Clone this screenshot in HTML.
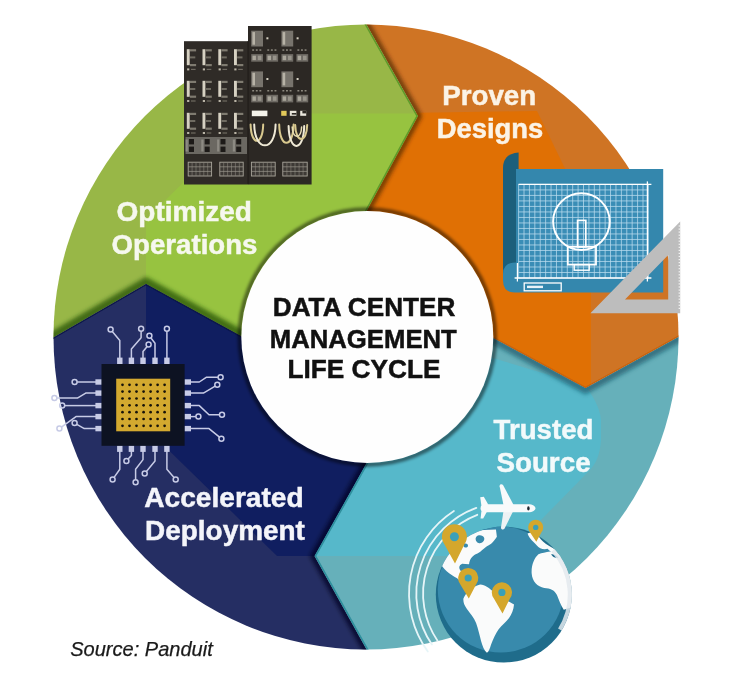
<!DOCTYPE html>
<html><head><meta charset="utf-8"><title>Data Center Management Life Cycle</title>
<style>html,body{margin:0;padding:0;background:#fff}body{width:740px;height:686px;position:relative;overflow:hidden;font-family:"Liberation Sans",sans-serif}svg text{font-family:"Liberation Sans",sans-serif}</style>
</head><body>
<svg width="740" height="686" viewBox="0 0 740 686" style="position:absolute;left:0;top:0;filter:blur(0.4px)">
<defs>
<clipPath id="ring"><circle cx="366.0" cy="337.0" r="312.5"/></clipPath>
<clipPath id="c_green"><polygon points="146.0,284.0 30.4,350.8 -120.0,-120.0 353.5,1.6 418.0,116.0 358.9,225.2 366.0,337.0 254.1,343.2"/></clipPath>
<clipPath id="c_orange"><polygon points="418.0,116.0 353.5,1.6 860.0,-120.0 702.1,323.8 585.5,388.0 479.7,330.5 366.0,337.0 358.9,225.2"/></clipPath>
<clipPath id="c_teal"><polygon points="585.5,388.0 702.1,323.8 860.0,800.0 379.6,672.9 314.5,556.0 374.4,449.1 366.0,337.0 479.7,330.5"/></clipPath>
<clipPath id="c_blue"><polygon points="314.5,556.0 379.6,672.9 -120.0,800.0 30.4,350.8 146.0,284.0 254.1,343.2 366.0,337.0 374.4,449.1"/></clipPath>
<filter id="b4" x="-20%" y="-20%" width="140%" height="140%"><feGaussianBlur stdDeviation="2"/></filter>
<filter id="b2" x="-20%" y="-20%" width="140%" height="140%"><feGaussianBlur stdDeviation="1.5"/></filter>
<filter id="b1" x="-20%" y="-20%" width="140%" height="140%"><feGaussianBlur stdDeviation="0.6"/></filter>
<clipPath id="bright"><path d="M146,113 L601,113 L601,556 L146,556 Z"/></clipPath>
<clipPath id="brighto"><path d="M146,114 L591,114 L591,556 L146,556 Z"/></clipPath>
<clipPath id="brightg"><path d="M146,113.5 L601,113.5 L601,556 L146,556 Z"/></clipPath>
<clipPath id="brightc"><circle cx="366.0" cy="337.0" r="266"/></clipPath>
<clipPath id="brightb"><circle cx="366.0" cy="337.0" r="225"/></clipPath>
</defs>
<rect width="740" height="686" fill="#ffffff"/>
<g clip-path="url(#ring)">
<polygon points="146.0,284.0 30.4,350.8 -120.0,-120.0 353.5,1.6 418.0,116.0 358.9,225.2 366.0,337.0 254.1,343.2" fill="#98b747"/>
<polygon points="418.0,116.0 353.5,1.6 860.0,-120.0 702.1,323.8 585.5,388.0 479.7,330.5 366.0,337.0 358.9,225.2" fill="#cf7424"/>
<polygon points="585.5,388.0 702.1,323.8 860.0,800.0 379.6,672.9 314.5,556.0 374.4,449.1 366.0,337.0 479.7,330.5" fill="#66b0ba"/>
<polygon points="314.5,556.0 379.6,672.9 -120.0,800.0 30.4,350.8 146.0,284.0 254.1,343.2 366.0,337.0 374.4,449.1" fill="#252e63"/>
<g clip-path="url(#c_green)"><polygon points="146,600 146,219 254,113.5 700,113.5 700,600" fill="#97c340"/></g>
<g clip-path="url(#c_orange)"><polygon points="300,114.5 537,111 591,222 591,600 300,600" fill="#e07004"/></g>
<g clip-path="url(#c_teal)"><path d="M300,300 L585.5,386 C592,395 600,407 601,420 L601,440 C600,455 596,463 590,470 L536,525 L505,556 L300,556 Z" fill="#56b8ca"/></g>
<g clip-path="url(#c_blue)"><polygon points="146,200 146,428 277,556 500,556 500,200" fill="#101e60"/></g>
<g clip-path="url(#c_orange)"><path d="M353.5,1.6 L418.0,116.0 L361.5,220.5" fill="none" stroke="#4a2400" stroke-opacity="0.8" stroke-width="5" stroke-linejoin="miter" filter="url(#b4)" transform="translate(1.2,0)"/></g>
<g clip-path="url(#c_teal)"><path d="M702.1,323.8 L585.5,388.0 L484.3,333.0" fill="none" stroke="#0d4a5c" stroke-opacity="0.6" stroke-width="8" stroke-linejoin="miter" filter="url(#b4)" transform="translate(0,2)"/></g>
<g clip-path="url(#c_blue)"><path d="M379.6,672.9 L314.5,556.0 L371.8,453.7" fill="none" stroke="#020720" stroke-opacity="0.8" stroke-width="6" stroke-linejoin="miter" filter="url(#b4)" transform="translate(-1.2,0)"/></g>
<g clip-path="url(#c_green)"><path d="M30.4,350.8 L146.0,284.0 L249.4,340.6" fill="none" stroke="#1f4a08" stroke-opacity="0.7" stroke-width="9" stroke-linejoin="miter" filter="url(#b4)" transform="translate(0,-2)"/></g>
<g clip-path="url(#c_green)"><path d="M353.5,1.6 L418.0,116.0 L361.5,220.5" fill="none" stroke="#5f9a2c" stroke-width="3.2" stroke-opacity="1" filter="url(#b1)"/></g>
<g clip-path="url(#c_orange)"><path d="M702.1,323.8 L585.5,388.0 L484.3,333.0" fill="none" stroke="#c9620d" stroke-width="2.4" stroke-opacity="1" filter="url(#b1)"/></g>
<g clip-path="url(#c_teal)"><path d="M379.6,672.9 L314.5,556.0 L371.8,453.7" fill="none" stroke="#2f8f9d" stroke-width="3.4" stroke-opacity="1" filter="url(#b1)"/></g>
<g clip-path="url(#c_blue)"><path d="M30.4,350.8 L146.0,284.0 L249.4,340.6" fill="none" stroke="#0b1648" stroke-width="2.4" stroke-opacity="1" filter="url(#b1)"/></g>
<circle cx="367.3" cy="337.0" r="127.5" fill="none" stroke="#000" stroke-opacity="0.5" stroke-width="4.4" filter="url(#b2)"/>
</g>
<circle cx="367.3" cy="337.0" r="126.0" fill="#fefefe"/>
<g id="racks">
<rect x="184" y="41.2" width="64.2" height="143.3" fill="#2f2b27"/>
<rect x="248" y="26" width="63.6" height="158.5" fill="#2c2824"/>
<rect x="247.6" y="41" width="0.9" height="143" fill="#1c1916"/>
<rect x="186.8" y="49.2" width="2.9" height="16" fill="#d6d1c2"/>
<rect x="189.9" y="49.2" width="6.2" height="2.2" fill="#7f7b70"/>
<rect x="189.9" y="56.400000000000006" width="5.4" height="2" fill="#6f6b61"/>
<rect x="189.9" y="64.0" width="6.2" height="2.2" fill="#7f7b70"/>
<rect x="187.10000000000002" y="68.4" width="2.2" height="2" fill="#b9b4a6"/>
<rect x="191.0" y="68.80000000000001" width="4.6" height="1.2" fill="#6f6a61"/>
<rect x="202.5" y="49.2" width="2.9" height="16" fill="#d6d1c2"/>
<rect x="205.6" y="49.2" width="6.2" height="2.2" fill="#7f7b70"/>
<rect x="205.6" y="56.400000000000006" width="5.4" height="2" fill="#6f6b61"/>
<rect x="205.6" y="64.0" width="6.2" height="2.2" fill="#7f7b70"/>
<rect x="202.8" y="68.4" width="2.2" height="2" fill="#b9b4a6"/>
<rect x="206.7" y="68.80000000000001" width="4.6" height="1.2" fill="#6f6a61"/>
<rect x="218.3" y="49.2" width="2.9" height="16" fill="#d6d1c2"/>
<rect x="221.4" y="49.2" width="6.2" height="2.2" fill="#7f7b70"/>
<rect x="221.4" y="56.400000000000006" width="5.4" height="2" fill="#6f6b61"/>
<rect x="221.4" y="64.0" width="6.2" height="2.2" fill="#7f7b70"/>
<rect x="218.60000000000002" y="68.4" width="2.2" height="2" fill="#b9b4a6"/>
<rect x="222.5" y="68.80000000000001" width="4.6" height="1.2" fill="#6f6a61"/>
<rect x="234.0" y="49.2" width="2.9" height="16" fill="#d6d1c2"/>
<rect x="237.1" y="49.2" width="6.2" height="2.2" fill="#7f7b70"/>
<rect x="237.1" y="56.400000000000006" width="5.4" height="2" fill="#6f6b61"/>
<rect x="237.1" y="64.0" width="6.2" height="2.2" fill="#7f7b70"/>
<rect x="234.3" y="68.4" width="2.2" height="2" fill="#b9b4a6"/>
<rect x="238.2" y="68.80000000000001" width="4.6" height="1.2" fill="#6f6a61"/>
<rect x="186.8" y="80.8" width="2.9" height="16" fill="#d6d1c2"/>
<rect x="189.9" y="80.8" width="6.2" height="2.2" fill="#7f7b70"/>
<rect x="189.9" y="88.0" width="5.4" height="2" fill="#6f6b61"/>
<rect x="189.9" y="95.6" width="6.2" height="2.2" fill="#7f7b70"/>
<rect x="187.10000000000002" y="100.0" width="2.2" height="2" fill="#b9b4a6"/>
<rect x="191.0" y="100.4" width="4.6" height="1.2" fill="#6f6a61"/>
<rect x="202.5" y="80.8" width="2.9" height="16" fill="#d6d1c2"/>
<rect x="205.6" y="80.8" width="6.2" height="2.2" fill="#7f7b70"/>
<rect x="205.6" y="88.0" width="5.4" height="2" fill="#6f6b61"/>
<rect x="205.6" y="95.6" width="6.2" height="2.2" fill="#7f7b70"/>
<rect x="202.8" y="100.0" width="2.2" height="2" fill="#b9b4a6"/>
<rect x="206.7" y="100.4" width="4.6" height="1.2" fill="#6f6a61"/>
<rect x="218.3" y="80.8" width="2.9" height="16" fill="#d6d1c2"/>
<rect x="221.4" y="80.8" width="6.2" height="2.2" fill="#7f7b70"/>
<rect x="221.4" y="88.0" width="5.4" height="2" fill="#6f6b61"/>
<rect x="221.4" y="95.6" width="6.2" height="2.2" fill="#7f7b70"/>
<rect x="218.60000000000002" y="100.0" width="2.2" height="2" fill="#b9b4a6"/>
<rect x="222.5" y="100.4" width="4.6" height="1.2" fill="#6f6a61"/>
<rect x="234.0" y="80.8" width="2.9" height="16" fill="#d6d1c2"/>
<rect x="237.1" y="80.8" width="6.2" height="2.2" fill="#7f7b70"/>
<rect x="237.1" y="88.0" width="5.4" height="2" fill="#6f6b61"/>
<rect x="237.1" y="95.6" width="6.2" height="2.2" fill="#7f7b70"/>
<rect x="234.3" y="100.0" width="2.2" height="2" fill="#b9b4a6"/>
<rect x="238.2" y="100.4" width="4.6" height="1.2" fill="#6f6a61"/>
<rect x="186.8" y="112.8" width="2.9" height="16" fill="#d6d1c2"/>
<rect x="189.9" y="112.8" width="6.2" height="2.2" fill="#7f7b70"/>
<rect x="189.9" y="120.0" width="5.4" height="2" fill="#6f6b61"/>
<rect x="189.9" y="127.6" width="6.2" height="2.2" fill="#7f7b70"/>
<rect x="187.10000000000002" y="132.0" width="2.2" height="2" fill="#b9b4a6"/>
<rect x="191.0" y="132.4" width="4.6" height="1.2" fill="#6f6a61"/>
<rect x="202.5" y="112.8" width="2.9" height="16" fill="#d6d1c2"/>
<rect x="205.6" y="112.8" width="6.2" height="2.2" fill="#7f7b70"/>
<rect x="205.6" y="120.0" width="5.4" height="2" fill="#6f6b61"/>
<rect x="205.6" y="127.6" width="6.2" height="2.2" fill="#7f7b70"/>
<rect x="202.8" y="132.0" width="2.2" height="2" fill="#b9b4a6"/>
<rect x="206.7" y="132.4" width="4.6" height="1.2" fill="#6f6a61"/>
<rect x="218.3" y="112.8" width="2.9" height="16" fill="#d6d1c2"/>
<rect x="221.4" y="112.8" width="6.2" height="2.2" fill="#7f7b70"/>
<rect x="221.4" y="120.0" width="5.4" height="2" fill="#6f6b61"/>
<rect x="221.4" y="127.6" width="6.2" height="2.2" fill="#7f7b70"/>
<rect x="218.60000000000002" y="132.0" width="2.2" height="2" fill="#b9b4a6"/>
<rect x="222.5" y="132.4" width="4.6" height="1.2" fill="#6f6a61"/>
<rect x="234.0" y="112.8" width="2.9" height="16" fill="#d6d1c2"/>
<rect x="237.1" y="112.8" width="6.2" height="2.2" fill="#7f7b70"/>
<rect x="237.1" y="120.0" width="5.4" height="2" fill="#6f6b61"/>
<rect x="237.1" y="127.6" width="6.2" height="2.2" fill="#7f7b70"/>
<rect x="234.3" y="132.0" width="2.2" height="2" fill="#b9b4a6"/>
<rect x="238.2" y="132.4" width="4.6" height="1.2" fill="#6f6a61"/>
<rect x="185.5" y="137" width="61.5" height="17" fill="#6b6862"/>
<rect x="189.0" y="139" width="5" height="5.4" fill="#1d1a18"/>
<rect x="189.0" y="146.6" width="5" height="5.4" fill="#1d1a18"/>
<rect x="185.60000000000002" y="139.5" width="2.2" height="12" fill="#8d8a83"/>
<rect x="204.7" y="139" width="5" height="5.4" fill="#1d1a18"/>
<rect x="204.7" y="146.6" width="5" height="5.4" fill="#1d1a18"/>
<rect x="201.3" y="139.5" width="2.2" height="12" fill="#8d8a83"/>
<rect x="220.5" y="139" width="5" height="5.4" fill="#1d1a18"/>
<rect x="220.5" y="146.6" width="5" height="5.4" fill="#1d1a18"/>
<rect x="217.10000000000002" y="139.5" width="2.2" height="12" fill="#8d8a83"/>
<rect x="236.2" y="139" width="5" height="5.4" fill="#1d1a18"/>
<rect x="236.2" y="146.6" width="5" height="5.4" fill="#1d1a18"/>
<rect x="232.8" y="139.5" width="2.2" height="12" fill="#8d8a83"/>
<rect x="188.2" y="162.2" width="23.4" height="13.8" fill="#3d3935" stroke="#aaa69c" stroke-width="0.9"/>
<line x1="192.1" y1="162.2" x2="192.1" y2="176.0" stroke="#8b877e" stroke-width="0.6"/>
<line x1="196.0" y1="162.2" x2="196.0" y2="176.0" stroke="#8b877e" stroke-width="0.6"/>
<line x1="199.9" y1="162.2" x2="199.9" y2="176.0" stroke="#8b877e" stroke-width="0.6"/>
<line x1="203.8" y1="162.2" x2="203.8" y2="176.0" stroke="#8b877e" stroke-width="0.6"/>
<line x1="207.7" y1="162.2" x2="207.7" y2="176.0" stroke="#8b877e" stroke-width="0.6"/>
<line x1="188.2" y1="166.8" x2="211.6" y2="166.8" stroke="#9a968c" stroke-width="0.7"/>
<line x1="188.2" y1="171.4" x2="211.6" y2="171.4" stroke="#9a968c" stroke-width="0.7"/>
<rect x="219.8" y="162.2" width="23.4" height="13.8" fill="#3d3935" stroke="#aaa69c" stroke-width="0.9"/>
<line x1="223.7" y1="162.2" x2="223.7" y2="176.0" stroke="#8b877e" stroke-width="0.6"/>
<line x1="227.6" y1="162.2" x2="227.6" y2="176.0" stroke="#8b877e" stroke-width="0.6"/>
<line x1="231.5" y1="162.2" x2="231.5" y2="176.0" stroke="#8b877e" stroke-width="0.6"/>
<line x1="235.4" y1="162.2" x2="235.4" y2="176.0" stroke="#8b877e" stroke-width="0.6"/>
<line x1="239.3" y1="162.2" x2="239.3" y2="176.0" stroke="#8b877e" stroke-width="0.6"/>
<line x1="219.8" y1="166.8" x2="243.20000000000002" y2="166.8" stroke="#9a968c" stroke-width="0.7"/>
<line x1="219.8" y1="171.4" x2="243.20000000000002" y2="171.4" stroke="#9a968c" stroke-width="0.7"/>
<rect x="251.4" y="162.2" width="23.8" height="13.8" fill="#3d3935" stroke="#aaa69c" stroke-width="0.9"/>
<line x1="255.4" y1="162.2" x2="255.4" y2="176.0" stroke="#8b877e" stroke-width="0.6"/>
<line x1="259.3" y1="162.2" x2="259.3" y2="176.0" stroke="#8b877e" stroke-width="0.6"/>
<line x1="263.3" y1="162.2" x2="263.3" y2="176.0" stroke="#8b877e" stroke-width="0.6"/>
<line x1="267.3" y1="162.2" x2="267.3" y2="176.0" stroke="#8b877e" stroke-width="0.6"/>
<line x1="271.2" y1="162.2" x2="271.2" y2="176.0" stroke="#8b877e" stroke-width="0.6"/>
<line x1="251.4" y1="166.8" x2="275.2" y2="166.8" stroke="#9a968c" stroke-width="0.7"/>
<line x1="251.4" y1="171.4" x2="275.2" y2="171.4" stroke="#9a968c" stroke-width="0.7"/>
<rect x="282.8" y="162.2" width="24.4" height="13.8" fill="#3d3935" stroke="#aaa69c" stroke-width="0.9"/>
<line x1="286.9" y1="162.2" x2="286.9" y2="176.0" stroke="#8b877e" stroke-width="0.6"/>
<line x1="290.9" y1="162.2" x2="290.9" y2="176.0" stroke="#8b877e" stroke-width="0.6"/>
<line x1="295.0" y1="162.2" x2="295.0" y2="176.0" stroke="#8b877e" stroke-width="0.6"/>
<line x1="299.1" y1="162.2" x2="299.1" y2="176.0" stroke="#8b877e" stroke-width="0.6"/>
<line x1="303.1" y1="162.2" x2="303.1" y2="176.0" stroke="#8b877e" stroke-width="0.6"/>
<line x1="282.8" y1="166.8" x2="307.2" y2="166.8" stroke="#9a968c" stroke-width="0.7"/>
<line x1="282.8" y1="171.4" x2="307.2" y2="171.4" stroke="#9a968c" stroke-width="0.7"/>
<rect x="251.2" y="30.7" width="11.8" height="15.8" fill="#77736c"/>
<rect x="252.39999999999998" y="32.1" width="2.6" height="12.6" fill="#b7b2a6"/>
<rect x="266.4" y="37.3" width="2" height="2" fill="#d6d1c3"/>
<rect x="281.4" y="30.7" width="11.8" height="15.8" fill="#77736c"/>
<rect x="282.59999999999997" y="32.1" width="2.6" height="12.6" fill="#b7b2a6"/>
<rect x="296.59999999999997" y="37.3" width="2" height="2" fill="#d6d1c3"/>
<rect x="252.2" y="49.3" width="1.9" height="1.5" fill="#8c887e"/>
<rect x="255.79999999999998" y="49.3" width="1.9" height="1.5" fill="#8c887e"/>
<rect x="259.4" y="49.3" width="1.9" height="1.5" fill="#8c887e"/>
<rect x="267.3" y="49.3" width="1.9" height="1.5" fill="#8c887e"/>
<rect x="270.90000000000003" y="49.3" width="1.9" height="1.5" fill="#8c887e"/>
<rect x="274.5" y="49.3" width="1.9" height="1.5" fill="#8c887e"/>
<rect x="282.4" y="49.3" width="1.9" height="1.5" fill="#8c887e"/>
<rect x="286.0" y="49.3" width="1.9" height="1.5" fill="#8c887e"/>
<rect x="289.59999999999997" y="49.3" width="1.9" height="1.5" fill="#8c887e"/>
<rect x="297.4" y="49.3" width="1.9" height="1.5" fill="#8c887e"/>
<rect x="301.0" y="49.3" width="1.9" height="1.5" fill="#8c887e"/>
<rect x="304.59999999999997" y="49.3" width="1.9" height="1.5" fill="#8c887e"/>
<rect x="251.2" y="54.099999999999994" width="11.8" height="7.6" fill="#6e6a64"/>
<rect x="252.5" y="55.7" width="3.4" height="4.4" fill="#aaa69b"/>
<rect x="257.8" y="55.7" width="3.6" height="4.4" fill="#97938a"/>
<rect x="266.3" y="54.099999999999994" width="11.8" height="7.6" fill="#6e6a64"/>
<rect x="267.6" y="55.7" width="3.4" height="4.4" fill="#aaa69b"/>
<rect x="272.90000000000003" y="55.7" width="3.6" height="4.4" fill="#97938a"/>
<rect x="281.4" y="54.099999999999994" width="11.8" height="7.6" fill="#6e6a64"/>
<rect x="282.7" y="55.7" width="3.4" height="4.4" fill="#aaa69b"/>
<rect x="288.0" y="55.7" width="3.6" height="4.4" fill="#97938a"/>
<rect x="296.4" y="54.099999999999994" width="11.8" height="7.6" fill="#6e6a64"/>
<rect x="297.7" y="55.7" width="3.4" height="4.4" fill="#aaa69b"/>
<rect x="303.0" y="55.7" width="3.6" height="4.4" fill="#97938a"/>
<rect x="251.2" y="71.4" width="11.8" height="15.8" fill="#77736c"/>
<rect x="252.39999999999998" y="72.80000000000001" width="2.6" height="12.6" fill="#b7b2a6"/>
<rect x="266.4" y="78.0" width="2" height="2" fill="#d6d1c3"/>
<rect x="281.4" y="71.4" width="11.8" height="15.8" fill="#77736c"/>
<rect x="282.59999999999997" y="72.80000000000001" width="2.6" height="12.6" fill="#b7b2a6"/>
<rect x="296.59999999999997" y="78.0" width="2" height="2" fill="#d6d1c3"/>
<rect x="252.2" y="90.0" width="1.9" height="1.5" fill="#8c887e"/>
<rect x="255.79999999999998" y="90.0" width="1.9" height="1.5" fill="#8c887e"/>
<rect x="259.4" y="90.0" width="1.9" height="1.5" fill="#8c887e"/>
<rect x="267.3" y="90.0" width="1.9" height="1.5" fill="#8c887e"/>
<rect x="270.90000000000003" y="90.0" width="1.9" height="1.5" fill="#8c887e"/>
<rect x="274.5" y="90.0" width="1.9" height="1.5" fill="#8c887e"/>
<rect x="282.4" y="90.0" width="1.9" height="1.5" fill="#8c887e"/>
<rect x="286.0" y="90.0" width="1.9" height="1.5" fill="#8c887e"/>
<rect x="289.59999999999997" y="90.0" width="1.9" height="1.5" fill="#8c887e"/>
<rect x="297.4" y="90.0" width="1.9" height="1.5" fill="#8c887e"/>
<rect x="301.0" y="90.0" width="1.9" height="1.5" fill="#8c887e"/>
<rect x="304.59999999999997" y="90.0" width="1.9" height="1.5" fill="#8c887e"/>
<rect x="251.2" y="94.80000000000001" width="11.8" height="7.6" fill="#6e6a64"/>
<rect x="252.5" y="96.4" width="3.4" height="4.4" fill="#aaa69b"/>
<rect x="257.8" y="96.4" width="3.6" height="4.4" fill="#97938a"/>
<rect x="266.3" y="94.80000000000001" width="11.8" height="7.6" fill="#6e6a64"/>
<rect x="267.6" y="96.4" width="3.4" height="4.4" fill="#aaa69b"/>
<rect x="272.90000000000003" y="96.4" width="3.6" height="4.4" fill="#97938a"/>
<rect x="281.4" y="94.80000000000001" width="11.8" height="7.6" fill="#6e6a64"/>
<rect x="282.7" y="96.4" width="3.4" height="4.4" fill="#aaa69b"/>
<rect x="288.0" y="96.4" width="3.6" height="4.4" fill="#97938a"/>
<rect x="296.4" y="94.80000000000001" width="11.8" height="7.6" fill="#6e6a64"/>
<rect x="297.7" y="96.4" width="3.4" height="4.4" fill="#aaa69b"/>
<rect x="303.0" y="96.4" width="3.6" height="4.4" fill="#97938a"/>
<rect x="251.8" y="110.6" width="15.6" height="5.6" fill="#f4f2ea"/>
<rect x="281.2" y="110.8" width="5.4" height="5" fill="#e2c95a"/>
<rect x="289.8" y="110.8" width="6.6" height="5" fill="#e9e6dc"/><rect x="291.8" y="113" width="4.6" height="1.6" fill="#2c2824"/>
<rect x="300.2" y="110.8" width="6" height="5" fill="#e9e6dc"/><rect x="302.4" y="110.8" width="3.8" height="2.6" fill="#2c2824"/>
<path d="M250.6,124.5 C251.1,146.3 262.7,146.3 263.2,124.5" fill="none" stroke="#d9c98f" stroke-width="2.0" stroke-linecap="round"/>
<path d="M254.2,124.5 C254.7,152.3 275.1,152.3 275.6,124.5" fill="none" stroke="#efe9d6" stroke-width="2.0" stroke-linecap="round"/>
<path d="M279.2,124.5 C279.7,148.9 293.1,148.9 293.6,124.5" fill="none" stroke="#d9c98f" stroke-width="2.0" stroke-linecap="round"/>
<path d="M288.6,126 C289.1,152.6 303.7,152.6 304.2,126" fill="none" stroke="#efe9d6" stroke-width="2.0" stroke-linecap="round"/>
<path d="M295.2,125 C295.7,143.6 306.7,143.6 307.2,125" fill="none" stroke="#d9c98f" stroke-width="2.0" stroke-linecap="round"/>
<path d="M292.2,127 C292.7,139.2 301.1,139.2 301.6,127" fill="none" stroke="#e6dcb4" stroke-width="1.5" stroke-linecap="round"/>
</g>
<g id="blueprint">
<path d="M503,168 C503,158 509,153 518.6,152.4 L518.6,276 L503,276 Z" fill="#1c5f7b"/>
<path d="M516,169 L663.2,169 L663.2,292.4 L515,292.4 Q503,292.4 503,280.4 L503,274 Q503,262.5 516,262.5 Z" fill="#3487ad"/>
<rect x="518.6" y="184.4" width="129.79999999999995" height="93.6" fill="#3a8db6"/>
<line x1="518.60" y1="184.4" x2="518.60" y2="278.0" stroke="#b9dcee" stroke-width="0.9" stroke-opacity="0.85"/>
<line x1="524.01" y1="184.4" x2="524.01" y2="278.0" stroke="#b9dcee" stroke-width="0.9" stroke-opacity="0.85"/>
<line x1="529.42" y1="184.4" x2="529.42" y2="278.0" stroke="#b9dcee" stroke-width="0.9" stroke-opacity="0.85"/>
<line x1="534.83" y1="184.4" x2="534.83" y2="278.0" stroke="#b9dcee" stroke-width="0.9" stroke-opacity="0.85"/>
<line x1="540.23" y1="184.4" x2="540.23" y2="278.0" stroke="#b9dcee" stroke-width="0.9" stroke-opacity="0.85"/>
<line x1="545.64" y1="184.4" x2="545.64" y2="278.0" stroke="#b9dcee" stroke-width="0.9" stroke-opacity="0.85"/>
<line x1="551.05" y1="184.4" x2="551.05" y2="278.0" stroke="#b9dcee" stroke-width="0.9" stroke-opacity="0.85"/>
<line x1="556.46" y1="184.4" x2="556.46" y2="278.0" stroke="#b9dcee" stroke-width="0.9" stroke-opacity="0.85"/>
<line x1="561.87" y1="184.4" x2="561.87" y2="278.0" stroke="#b9dcee" stroke-width="0.9" stroke-opacity="0.85"/>
<line x1="567.27" y1="184.4" x2="567.27" y2="278.0" stroke="#b9dcee" stroke-width="0.9" stroke-opacity="0.85"/>
<line x1="572.68" y1="184.4" x2="572.68" y2="278.0" stroke="#b9dcee" stroke-width="0.9" stroke-opacity="0.85"/>
<line x1="578.09" y1="184.4" x2="578.09" y2="278.0" stroke="#b9dcee" stroke-width="0.9" stroke-opacity="0.85"/>
<line x1="583.50" y1="184.4" x2="583.50" y2="278.0" stroke="#b9dcee" stroke-width="0.9" stroke-opacity="0.85"/>
<line x1="588.91" y1="184.4" x2="588.91" y2="278.0" stroke="#b9dcee" stroke-width="0.9" stroke-opacity="0.85"/>
<line x1="594.32" y1="184.4" x2="594.32" y2="278.0" stroke="#b9dcee" stroke-width="0.9" stroke-opacity="0.85"/>
<line x1="599.73" y1="184.4" x2="599.73" y2="278.0" stroke="#b9dcee" stroke-width="0.9" stroke-opacity="0.85"/>
<line x1="605.13" y1="184.4" x2="605.13" y2="278.0" stroke="#b9dcee" stroke-width="0.9" stroke-opacity="0.85"/>
<line x1="610.54" y1="184.4" x2="610.54" y2="278.0" stroke="#b9dcee" stroke-width="0.9" stroke-opacity="0.85"/>
<line x1="615.95" y1="184.4" x2="615.95" y2="278.0" stroke="#b9dcee" stroke-width="0.9" stroke-opacity="0.85"/>
<line x1="621.36" y1="184.4" x2="621.36" y2="278.0" stroke="#b9dcee" stroke-width="0.9" stroke-opacity="0.85"/>
<line x1="626.77" y1="184.4" x2="626.77" y2="278.0" stroke="#b9dcee" stroke-width="0.9" stroke-opacity="0.85"/>
<line x1="632.17" y1="184.4" x2="632.17" y2="278.0" stroke="#b9dcee" stroke-width="0.9" stroke-opacity="0.85"/>
<line x1="637.58" y1="184.4" x2="637.58" y2="278.0" stroke="#b9dcee" stroke-width="0.9" stroke-opacity="0.85"/>
<line x1="642.99" y1="184.4" x2="642.99" y2="278.0" stroke="#b9dcee" stroke-width="0.9" stroke-opacity="0.85"/>
<line x1="648.40" y1="184.4" x2="648.40" y2="278.0" stroke="#b9dcee" stroke-width="0.9" stroke-opacity="0.85"/>
<line x1="518.6" y1="184.40" x2="648.4" y2="184.40" stroke="#b9dcee" stroke-width="0.9" stroke-opacity="0.85"/>
<line x1="518.6" y1="189.91" x2="648.4" y2="189.91" stroke="#b9dcee" stroke-width="0.9" stroke-opacity="0.85"/>
<line x1="518.6" y1="195.41" x2="648.4" y2="195.41" stroke="#b9dcee" stroke-width="0.9" stroke-opacity="0.85"/>
<line x1="518.6" y1="200.92" x2="648.4" y2="200.92" stroke="#b9dcee" stroke-width="0.9" stroke-opacity="0.85"/>
<line x1="518.6" y1="206.42" x2="648.4" y2="206.42" stroke="#b9dcee" stroke-width="0.9" stroke-opacity="0.85"/>
<line x1="518.6" y1="211.93" x2="648.4" y2="211.93" stroke="#b9dcee" stroke-width="0.9" stroke-opacity="0.85"/>
<line x1="518.6" y1="217.44" x2="648.4" y2="217.44" stroke="#b9dcee" stroke-width="0.9" stroke-opacity="0.85"/>
<line x1="518.6" y1="222.94" x2="648.4" y2="222.94" stroke="#b9dcee" stroke-width="0.9" stroke-opacity="0.85"/>
<line x1="518.6" y1="228.45" x2="648.4" y2="228.45" stroke="#b9dcee" stroke-width="0.9" stroke-opacity="0.85"/>
<line x1="518.6" y1="233.95" x2="648.4" y2="233.95" stroke="#b9dcee" stroke-width="0.9" stroke-opacity="0.85"/>
<line x1="518.6" y1="239.46" x2="648.4" y2="239.46" stroke="#b9dcee" stroke-width="0.9" stroke-opacity="0.85"/>
<line x1="518.6" y1="244.96" x2="648.4" y2="244.96" stroke="#b9dcee" stroke-width="0.9" stroke-opacity="0.85"/>
<line x1="518.6" y1="250.47" x2="648.4" y2="250.47" stroke="#b9dcee" stroke-width="0.9" stroke-opacity="0.85"/>
<line x1="518.6" y1="255.98" x2="648.4" y2="255.98" stroke="#b9dcee" stroke-width="0.9" stroke-opacity="0.85"/>
<line x1="518.6" y1="261.48" x2="648.4" y2="261.48" stroke="#b9dcee" stroke-width="0.9" stroke-opacity="0.85"/>
<line x1="518.6" y1="266.99" x2="648.4" y2="266.99" stroke="#b9dcee" stroke-width="0.9" stroke-opacity="0.85"/>
<line x1="518.6" y1="272.49" x2="648.4" y2="272.49" stroke="#b9dcee" stroke-width="0.9" stroke-opacity="0.85"/>
<line x1="518.6" y1="278.00" x2="648.4" y2="278.00" stroke="#b9dcee" stroke-width="0.9" stroke-opacity="0.85"/>
<line x1="518.6" y1="184.4" x2="651.4" y2="184.4" stroke="#fff" stroke-width="1.3"/>
<line x1="647.4" y1="181.4" x2="647.4" y2="281.5" stroke="#fff" stroke-width="1.3"/>
<line x1="514.6" y1="278.0" x2="651.4" y2="278.0" stroke="#fff" stroke-width="1.3"/>
<line x1="517.4" y1="263.0" x2="517.4" y2="281.5" stroke="#fff" stroke-width="1.2"/>
<circle cx="581.4" cy="221.6" r="28.3" fill="none" stroke="#fff" stroke-width="2"/>
<rect x="577.6" y="220.4" width="8.2" height="26.4" fill="none" stroke="#fff" stroke-width="1.7"/>
<rect x="567.8" y="246.8" width="28.2" height="17.8" fill="none" stroke="#fff" stroke-width="1.8"/>
<rect x="574.2" y="264.6" width="15" height="5.6" fill="none" stroke="#fff" stroke-width="1.4"/>
<rect x="524.2" y="283" width="37" height="7.8" fill="none" stroke="#fff" stroke-width="1.3"/>
<rect x="527" y="285.7" width="16" height="2.4" fill="#e8f2f8"/>
<path fill-rule="evenodd" d="M680.2,221.4 L680.2,313.2 L590.4,313.2 Z M668.2,255 L668.2,299.4 L625,299.4 Z" fill="#bdbdbd"/>
<line x1="678.6" y1="226.0" x2="681" y2="226.0" stroke="#f2f2f2" stroke-width="1.2"/>
<line x1="678.6" y1="229.1" x2="681" y2="229.1" stroke="#f2f2f2" stroke-width="1.2"/>
<line x1="678.6" y1="232.1" x2="681" y2="232.1" stroke="#f2f2f2" stroke-width="1.2"/>
<line x1="678.6" y1="235.2" x2="681" y2="235.2" stroke="#f2f2f2" stroke-width="1.2"/>
<line x1="678.6" y1="238.2" x2="681" y2="238.2" stroke="#f2f2f2" stroke-width="1.2"/>
<line x1="678.6" y1="241.2" x2="681" y2="241.2" stroke="#f2f2f2" stroke-width="1.2"/>
<line x1="678.6" y1="244.3" x2="681" y2="244.3" stroke="#f2f2f2" stroke-width="1.2"/>
<line x1="678.6" y1="247.3" x2="681" y2="247.3" stroke="#f2f2f2" stroke-width="1.2"/>
<line x1="678.6" y1="250.4" x2="681" y2="250.4" stroke="#f2f2f2" stroke-width="1.2"/>
<line x1="678.6" y1="253.4" x2="681" y2="253.4" stroke="#f2f2f2" stroke-width="1.2"/>
<line x1="678.6" y1="256.5" x2="681" y2="256.5" stroke="#f2f2f2" stroke-width="1.2"/>
<line x1="678.6" y1="259.6" x2="681" y2="259.6" stroke="#f2f2f2" stroke-width="1.2"/>
<line x1="678.6" y1="262.6" x2="681" y2="262.6" stroke="#f2f2f2" stroke-width="1.2"/>
<line x1="678.6" y1="265.6" x2="681" y2="265.6" stroke="#f2f2f2" stroke-width="1.2"/>
<line x1="678.6" y1="268.7" x2="681" y2="268.7" stroke="#f2f2f2" stroke-width="1.2"/>
<line x1="678.6" y1="271.8" x2="681" y2="271.8" stroke="#f2f2f2" stroke-width="1.2"/>
<line x1="678.6" y1="274.8" x2="681" y2="274.8" stroke="#f2f2f2" stroke-width="1.2"/>
<line x1="678.6" y1="277.9" x2="681" y2="277.9" stroke="#f2f2f2" stroke-width="1.2"/>
<line x1="678.6" y1="280.9" x2="681" y2="280.9" stroke="#f2f2f2" stroke-width="1.2"/>
<line x1="678.6" y1="283.9" x2="681" y2="283.9" stroke="#f2f2f2" stroke-width="1.2"/>
<line x1="678.6" y1="287.0" x2="681" y2="287.0" stroke="#f2f2f2" stroke-width="1.2"/>
<line x1="678.6" y1="290.1" x2="681" y2="290.1" stroke="#f2f2f2" stroke-width="1.2"/>
<line x1="678.6" y1="293.1" x2="681" y2="293.1" stroke="#f2f2f2" stroke-width="1.2"/>
<line x1="678.6" y1="296.1" x2="681" y2="296.1" stroke="#f2f2f2" stroke-width="1.2"/>
<line x1="678.6" y1="299.2" x2="681" y2="299.2" stroke="#f2f2f2" stroke-width="1.2"/>
<line x1="678.6" y1="302.2" x2="681" y2="302.2" stroke="#f2f2f2" stroke-width="1.2"/>
<line x1="678.6" y1="305.3" x2="681" y2="305.3" stroke="#f2f2f2" stroke-width="1.2"/>
<line x1="678.6" y1="308.4" x2="681" y2="308.4" stroke="#f2f2f2" stroke-width="1.2"/>
</g>
<g id="chip">
<path d="M119.8,358 L119.8,340.5 L112.3,331.4" fill="none" stroke="#c7cbe6" stroke-width="1.5" stroke-linejoin="round"/>
<circle cx="110.6" cy="329.4" r="2.5" fill="none" stroke="#c7cbe6" stroke-width="1.5"/>
<path d="M131.4,358 L131.4,349 L141.1,337.7 L141.1,331.4" fill="none" stroke="#c7cbe6" stroke-width="1.5" stroke-linejoin="round"/>
<circle cx="141.1" cy="328.8" r="2.5" fill="none" stroke="#c7cbe6" stroke-width="1.5"/>
<path d="M143,358 L143,351.5 L147.2,346.4" fill="none" stroke="#c7cbe6" stroke-width="1.5" stroke-linejoin="round"/>
<circle cx="148.6" cy="344.6" r="2.5" fill="none" stroke="#c7cbe6" stroke-width="1.5"/>
<path d="M155,358 L155,343.2 L150.8,337.8" fill="none" stroke="#c7cbe6" stroke-width="1.5" stroke-linejoin="round"/>
<circle cx="149.4" cy="335.8" r="2.5" fill="none" stroke="#c7cbe6" stroke-width="1.5"/>
<path d="M166.9,358 L166.9,331.4" fill="none" stroke="#c7cbe6" stroke-width="1.5" stroke-linejoin="round"/>
<circle cx="166.9" cy="328.8" r="2.5" fill="none" stroke="#c7cbe6" stroke-width="1.5"/>
<path d="M190.5,382 L199.3,382 L206.2,377.3 L218,377.3" fill="none" stroke="#c7cbe6" stroke-width="1.5" stroke-linejoin="round"/>
<circle cx="220.6" cy="377.3" r="2.5" fill="none" stroke="#c7cbe6" stroke-width="1.5"/>
<path d="M190.5,393.1 L203.4,393.1 L215.2,386.1" fill="none" stroke="#c7cbe6" stroke-width="1.5" stroke-linejoin="round"/>
<circle cx="217.3" cy="384.8" r="2.5" fill="none" stroke="#c7cbe6" stroke-width="1.5"/>
<path d="M190.5,405.6 L199.3,405.6 L209,414.7 L219.4,414.7" fill="none" stroke="#c7cbe6" stroke-width="1.5" stroke-linejoin="round"/>
<circle cx="222" cy="414.7" r="2.5" fill="none" stroke="#c7cbe6" stroke-width="1.5"/>
<path d="M190.5,416.6 L195.8,416.6" fill="none" stroke="#c7cbe6" stroke-width="1.5" stroke-linejoin="round"/>
<circle cx="198.4" cy="416.6" r="2.5" fill="none" stroke="#c7cbe6" stroke-width="1.5"/>
<path d="M190.5,428.6 L209,428.6 L219.5,437.2" fill="none" stroke="#c7cbe6" stroke-width="1.5" stroke-linejoin="round"/>
<circle cx="221.4" cy="438.8" r="2.5" fill="none" stroke="#c7cbe6" stroke-width="1.5"/>
<path d="M96,382 L77.2,382" fill="none" stroke="#c7cbe6" stroke-width="1.5" stroke-linejoin="round"/>
<circle cx="74.6" cy="382" r="2.5" fill="none" stroke="#c7cbe6" stroke-width="1.5"/>
<path d="M96,393.1 L85.7,393.1 L77.4,398.1 L57,398.1" fill="none" stroke="#c7cbe6" stroke-width="1.5" stroke-linejoin="round"/>
<circle cx="54.4" cy="398.1" r="2.5" fill="none" stroke="#c7cbe6" stroke-width="1.5"/>
<path d="M96,405.6 L64.8,405.6" fill="none" stroke="#c7cbe6" stroke-width="1.5" stroke-linejoin="round"/>
<circle cx="62.2" cy="405.6" r="2.5" fill="none" stroke="#c7cbe6" stroke-width="1.5"/>
<path d="M96,416.6 L76,416.6 L61.4,427.2" fill="none" stroke="#c7cbe6" stroke-width="1.5" stroke-linejoin="round"/>
<circle cx="59.4" cy="428.6" r="2.5" fill="none" stroke="#c7cbe6" stroke-width="1.5"/>
<path d="M96,428.6 L84.3,428.6 L76.8,424.3" fill="none" stroke="#c7cbe6" stroke-width="1.5" stroke-linejoin="round"/>
<circle cx="74.6" cy="423" r="2.5" fill="none" stroke="#c7cbe6" stroke-width="1.5"/>
<path d="M119.8,451 L119.8,469.3 L114.1,477.4" fill="none" stroke="#c7cbe6" stroke-width="1.5" stroke-linejoin="round"/>
<circle cx="112.6" cy="479.5" r="2.5" fill="none" stroke="#c7cbe6" stroke-width="1.5"/>
<path d="M131.4,451 L131.4,455.4 L128.1,459.1" fill="none" stroke="#c7cbe6" stroke-width="1.5" stroke-linejoin="round"/>
<circle cx="126.4" cy="461" r="2.5" fill="none" stroke="#c7cbe6" stroke-width="1.5"/>
<path d="M143,451 L143,459.6 L135.6,469.3 L135.6,479.7" fill="none" stroke="#c7cbe6" stroke-width="1.5" stroke-linejoin="round"/>
<circle cx="135.6" cy="482.3" r="2.5" fill="none" stroke="#c7cbe6" stroke-width="1.5"/>
<path d="M155,451 L155,461 L146.4,471.4" fill="none" stroke="#c7cbe6" stroke-width="1.5" stroke-linejoin="round"/>
<circle cx="144.7" cy="473.4" r="2.5" fill="none" stroke="#c7cbe6" stroke-width="1.5"/>
<path d="M166.9,451 L166.9,469.3 L174,477.5" fill="none" stroke="#c7cbe6" stroke-width="1.5" stroke-linejoin="round"/>
<circle cx="175.7" cy="479.5" r="2.5" fill="none" stroke="#c7cbe6" stroke-width="1.5"/>
<rect x="117.1" y="357.6" width="5.4" height="6.6" fill="#c7cbe6"/>
<rect x="117.1" y="445.5" width="5.4" height="6.4" fill="#c7cbe6"/>
<rect x="128.70000000000002" y="357.6" width="5.4" height="6.6" fill="#c7cbe6"/>
<rect x="128.70000000000002" y="445.5" width="5.4" height="6.4" fill="#c7cbe6"/>
<rect x="140.3" y="357.6" width="5.4" height="6.6" fill="#c7cbe6"/>
<rect x="140.3" y="445.5" width="5.4" height="6.4" fill="#c7cbe6"/>
<rect x="152.3" y="357.6" width="5.4" height="6.6" fill="#c7cbe6"/>
<rect x="152.3" y="445.5" width="5.4" height="6.4" fill="#c7cbe6"/>
<rect x="164.20000000000002" y="357.6" width="5.4" height="6.6" fill="#c7cbe6"/>
<rect x="164.20000000000002" y="445.5" width="5.4" height="6.4" fill="#c7cbe6"/>
<rect x="95.4" y="379.3" width="6.4" height="5.4" fill="#c7cbe6"/>
<rect x="184.4" y="379.3" width="6.6" height="5.4" fill="#c7cbe6"/>
<rect x="95.4" y="390.40000000000003" width="6.4" height="5.4" fill="#c7cbe6"/>
<rect x="184.4" y="390.40000000000003" width="6.6" height="5.4" fill="#c7cbe6"/>
<rect x="95.4" y="402.90000000000003" width="6.4" height="5.4" fill="#c7cbe6"/>
<rect x="184.4" y="402.90000000000003" width="6.6" height="5.4" fill="#c7cbe6"/>
<rect x="95.4" y="413.90000000000003" width="6.4" height="5.4" fill="#c7cbe6"/>
<rect x="184.4" y="413.90000000000003" width="6.6" height="5.4" fill="#c7cbe6"/>
<rect x="95.4" y="425.90000000000003" width="6.4" height="5.4" fill="#c7cbe6"/>
<rect x="184.4" y="425.90000000000003" width="6.6" height="5.4" fill="#c7cbe6"/>
<rect x="101.5" y="364" width="83.1" height="81.8" fill="#0d1222"/>
<rect x="116.2" y="378.7" width="54" height="52.6" fill="#d3a92f"/>
<circle cx="122.5" cy="384.8" r="1.35" fill="#17130a"/>
<circle cx="122.5" cy="391.6" r="1.35" fill="#17130a"/>
<circle cx="122.5" cy="398.5" r="1.35" fill="#17130a"/>
<circle cx="122.5" cy="405.3" r="1.35" fill="#17130a"/>
<circle cx="122.5" cy="412.2" r="1.35" fill="#17130a"/>
<circle cx="122.5" cy="419.0" r="1.35" fill="#17130a"/>
<circle cx="122.5" cy="425.8" r="1.35" fill="#17130a"/>
<circle cx="129.5" cy="384.8" r="1.35" fill="#17130a"/>
<circle cx="129.5" cy="391.6" r="1.35" fill="#17130a"/>
<circle cx="129.5" cy="398.5" r="1.35" fill="#17130a"/>
<circle cx="129.5" cy="405.3" r="1.35" fill="#17130a"/>
<circle cx="129.5" cy="412.2" r="1.35" fill="#17130a"/>
<circle cx="129.5" cy="419.0" r="1.35" fill="#17130a"/>
<circle cx="129.5" cy="425.8" r="1.35" fill="#17130a"/>
<circle cx="136.5" cy="384.8" r="1.35" fill="#17130a"/>
<circle cx="136.5" cy="391.6" r="1.35" fill="#17130a"/>
<circle cx="136.5" cy="398.5" r="1.35" fill="#17130a"/>
<circle cx="136.5" cy="405.3" r="1.35" fill="#17130a"/>
<circle cx="136.5" cy="412.2" r="1.35" fill="#17130a"/>
<circle cx="136.5" cy="419.0" r="1.35" fill="#17130a"/>
<circle cx="136.5" cy="425.8" r="1.35" fill="#17130a"/>
<circle cx="143.6" cy="384.8" r="1.35" fill="#17130a"/>
<circle cx="143.6" cy="391.6" r="1.35" fill="#17130a"/>
<circle cx="143.6" cy="398.5" r="1.35" fill="#17130a"/>
<circle cx="143.6" cy="405.3" r="1.35" fill="#17130a"/>
<circle cx="143.6" cy="412.2" r="1.35" fill="#17130a"/>
<circle cx="143.6" cy="419.0" r="1.35" fill="#17130a"/>
<circle cx="143.6" cy="425.8" r="1.35" fill="#17130a"/>
<circle cx="150.6" cy="384.8" r="1.35" fill="#17130a"/>
<circle cx="150.6" cy="391.6" r="1.35" fill="#17130a"/>
<circle cx="150.6" cy="398.5" r="1.35" fill="#17130a"/>
<circle cx="150.6" cy="405.3" r="1.35" fill="#17130a"/>
<circle cx="150.6" cy="412.2" r="1.35" fill="#17130a"/>
<circle cx="150.6" cy="419.0" r="1.35" fill="#17130a"/>
<circle cx="150.6" cy="425.8" r="1.35" fill="#17130a"/>
<circle cx="157.6" cy="384.8" r="1.35" fill="#17130a"/>
<circle cx="157.6" cy="391.6" r="1.35" fill="#17130a"/>
<circle cx="157.6" cy="398.5" r="1.35" fill="#17130a"/>
<circle cx="157.6" cy="405.3" r="1.35" fill="#17130a"/>
<circle cx="157.6" cy="412.2" r="1.35" fill="#17130a"/>
<circle cx="157.6" cy="419.0" r="1.35" fill="#17130a"/>
<circle cx="157.6" cy="425.8" r="1.35" fill="#17130a"/>
<circle cx="164.6" cy="384.8" r="1.35" fill="#17130a"/>
<circle cx="164.6" cy="391.6" r="1.35" fill="#17130a"/>
<circle cx="164.6" cy="398.5" r="1.35" fill="#17130a"/>
<circle cx="164.6" cy="405.3" r="1.35" fill="#17130a"/>
<circle cx="164.6" cy="412.2" r="1.35" fill="#17130a"/>
<circle cx="164.6" cy="419.0" r="1.35" fill="#17130a"/>
<circle cx="164.6" cy="425.8" r="1.35" fill="#17130a"/>
</g>
<g id="globe">
<path d="M477.3,514.8 A84.4,84.4 0 0 0 437.5,640.8" fill="none" stroke="#e6f5f8" stroke-width="1.8" stroke-linecap="round"/>
<path d="M476.3,507.9 A91.2,91.2 0 0 0 431.9,644.6" fill="none" stroke="#e6f5f8" stroke-width="1.8" stroke-linecap="round"/>
<path d="M453.9,511.0 A98.5,98.5 0 0 0 427.8,651.5" fill="none" stroke="#e6f5f8" stroke-width="1.8" stroke-linecap="round"/>
<defs><clipPath id="gclip"><circle cx="503.8" cy="594.6" r="68"/></clipPath><radialGradient id="gsh" cx="0.58" cy="0.42" r="0.62"><stop offset="0.80" stop-color="#2d84ad"/><stop offset="0.81" stop-color="#23708f"/><stop offset="1" stop-color="#23708f"/></radialGradient></defs>
<circle cx="503.8" cy="594.6" r="68" fill="#1f6c8b"/>
<g clip-path="url(#gclip)">
<circle cx="500.8" cy="589.6" r="63" fill="#388aac"/>
<g transform="translate(430,510) scale(0.22589)" fill="#fafbfb">
<path d="M40,225 C55,170 105,120 160,103 L215,90 L292,86 L296,118 C284,135 276,150 252,160 C236,170 226,186 202,196 C186,206 176,216 173,240 L142,238 C128,245 126,256 136,270 C147,282 152,300 154,332 L120,302 C88,286 56,262 40,225 Z"/>
<path d="M205,118 C215,108 235,110 240,124 C243,138 228,150 215,146 C204,142 198,128 205,118 Z" fill="#388aac"/>
<path d="M150,150 C160,146 170,150 168,160 C165,168 152,168 148,160 Z" fill="#388aac"/>
<path d="M148,392 C160,365 185,340 222,330 C245,332 262,345 285,366 C312,388 345,402 372,418 C370,440 362,462 350,478 C338,496 318,508 304,528 C290,548 280,572 270,596 C265,612 260,628 252,632 C240,622 232,602 226,580 C220,556 214,528 204,500 C196,478 176,456 162,436 C152,422 146,406 148,392 Z"/>
<path d="M480,196 C462,212 448,244 450,280 C452,316 476,340 506,345 C532,348 550,352 562,376 C570,396 578,420 592,442 L660,420 L660,230 C610,214 566,192 532,184 C512,188 496,190 480,196 Z"/>
<path d="M432,104 C450,96 470,100 482,118 C492,134 506,146 526,158 C548,170 574,184 600,204 L606,226 C584,210 560,198 536,186 L520,172 C500,176 484,170 472,156 C460,142 440,128 432,104 Z"/>
<path d="M536,196 C548,194 560,200 568,210 C556,214 544,210 536,196 Z" fill="#1f6a8c"/>
</g>
<path d="M553.2,550.1 A66.5,66.5 0 0 1 560.2,629.8" fill="none" stroke="#e3e9ed" stroke-opacity="0.85" stroke-width="5"/>
</g>
<path d="M444.5,544.4 A12.5,12.5 0 1 1 464.3,544.4 L455.0,563.6 Z" fill="#d4a72c"/>
<circle cx="454.4" cy="536.7" r="4.5" fill="#3aa0b8"/>
<path d="M460.2,584.2 A10.1,10.1 0 1 1 476.2,584.2 L468.8,598.6 Z" fill="#d4a72c"/>
<circle cx="468.2" cy="578" r="3.6" fill="#3aa0b8"/>
<path d="M493.9,598.6 A10.1,10.1 0 1 1 509.9,598.6 L502.5,613.6 Z" fill="#d4a72c"/>
<circle cx="501.9" cy="592.4" r="3.6" fill="#3aa0b8"/>
<path d="M529.8,532.0 A7.5,7.5 0 1 1 541.6,532.0 L536.3,541.7 Z" fill="#d4a72c"/>
<circle cx="535.7" cy="527.4" r="2.7" fill="#3aa0b8"/>
<path d="M503.5,505 L499.6,486.2 C499.4,484 502,483.4 503.2,485.2 L513.6,505 Z" fill="#f8fafb"/>
<path d="M503.4,511.6 L513,511.6 L504.6,528.4 C503.4,530.2 500.8,529.6 501,527.4 Z" fill="#eef2f4"/>
<path d="M481.4,505.4 L480.2,497.2 L483.8,496.8 L488.4,504.8 Z" fill="#f8fafb"/>
<path d="M481.4,511.2 L480.6,518.4 L483.2,518.4 L487,511.6 Z" fill="#f8fafb"/>
<path d="M484,504.2 L528,504.2 C533,504.2 535.4,506.4 535.4,508.2 C535.4,510 533,512.2 528,512.2 L484,512.2 C481.5,512.2 480.6,510.2 480.6,508.2 C480.6,506.2 481.5,504.2 484,504.2 Z" fill="#f8fafb"/>
<ellipse cx="528.4" cy="508.4" rx="1.25" ry="2.1" fill="#1d2730"/>
</g>
<text x="116.5" y="220.5" textLength="135.4" lengthAdjust="spacingAndGlyphs" font-size="28" fill="#f6f8ee" style="font-weight:bold" stroke="#f6f8ee" stroke-width="0.5">Optimized</text>
<text x="111.5" y="254.3" textLength="146" lengthAdjust="spacingAndGlyphs" font-size="28" fill="#f6f8ee" style="font-weight:bold" stroke="#f6f8ee" stroke-width="0.5">Operations</text>
<text x="442.2" y="104.6" textLength="94" lengthAdjust="spacingAndGlyphs" font-size="28" fill="#fbf3e6" style="font-weight:bold" stroke="#fbf3e6" stroke-width="0.5">Proven</text>
<text x="436.8" y="137.7" textLength="106.5" lengthAdjust="spacingAndGlyphs" font-size="28" fill="#fbf3e6" style="font-weight:bold" stroke="#fbf3e6" stroke-width="0.5">Designs</text>
<text x="493.6" y="438.9" textLength="99.8" lengthAdjust="spacingAndGlyphs" font-size="28" fill="#f2fafb" style="font-weight:bold" stroke="#f2fafb" stroke-width="0.5">Trusted</text>
<text x="496.4" y="472.4" textLength="94.2" lengthAdjust="spacingAndGlyphs" font-size="28" fill="#f2fafb" style="font-weight:bold" stroke="#f2fafb" stroke-width="0.5">Source</text>
<text x="144.3" y="506.5" textLength="159.3" lengthAdjust="spacingAndGlyphs" font-size="28" fill="#f4f5fa" style="font-weight:bold" stroke="#f4f5fa" stroke-width="0.5">Accelerated</text>
<text x="145.1" y="540.3" textLength="159.8" lengthAdjust="spacingAndGlyphs" font-size="28" fill="#f4f5fa" style="font-weight:bold" stroke="#f4f5fa" stroke-width="0.5">Deployment</text>
<text x="272.8" y="315.7" textLength="182.5" lengthAdjust="spacingAndGlyphs" font-size="26.6" fill="#111" style="font-weight:bold" stroke="#111" stroke-width="0.5">DATA CENTER</text>
<text x="269.8" y="347.8" textLength="187" lengthAdjust="spacingAndGlyphs" font-size="26.6" fill="#111" style="font-weight:bold" stroke="#111" stroke-width="0.5">MANAGEMENT</text>
<text x="287.6" y="378.1" textLength="152.8" lengthAdjust="spacingAndGlyphs" font-size="26.6" fill="#111" style="font-weight:bold" stroke="#111" stroke-width="0.5">LIFE CYCLE</text>
<text x="70.2" y="655.7" textLength="142.6" lengthAdjust="spacingAndGlyphs" font-size="20.8" fill="#1a1a1a" style="font-style:italic" stroke="#1a1a1a" stroke-width="0.25">Source: Panduit</text>
</svg>
</body></html>
